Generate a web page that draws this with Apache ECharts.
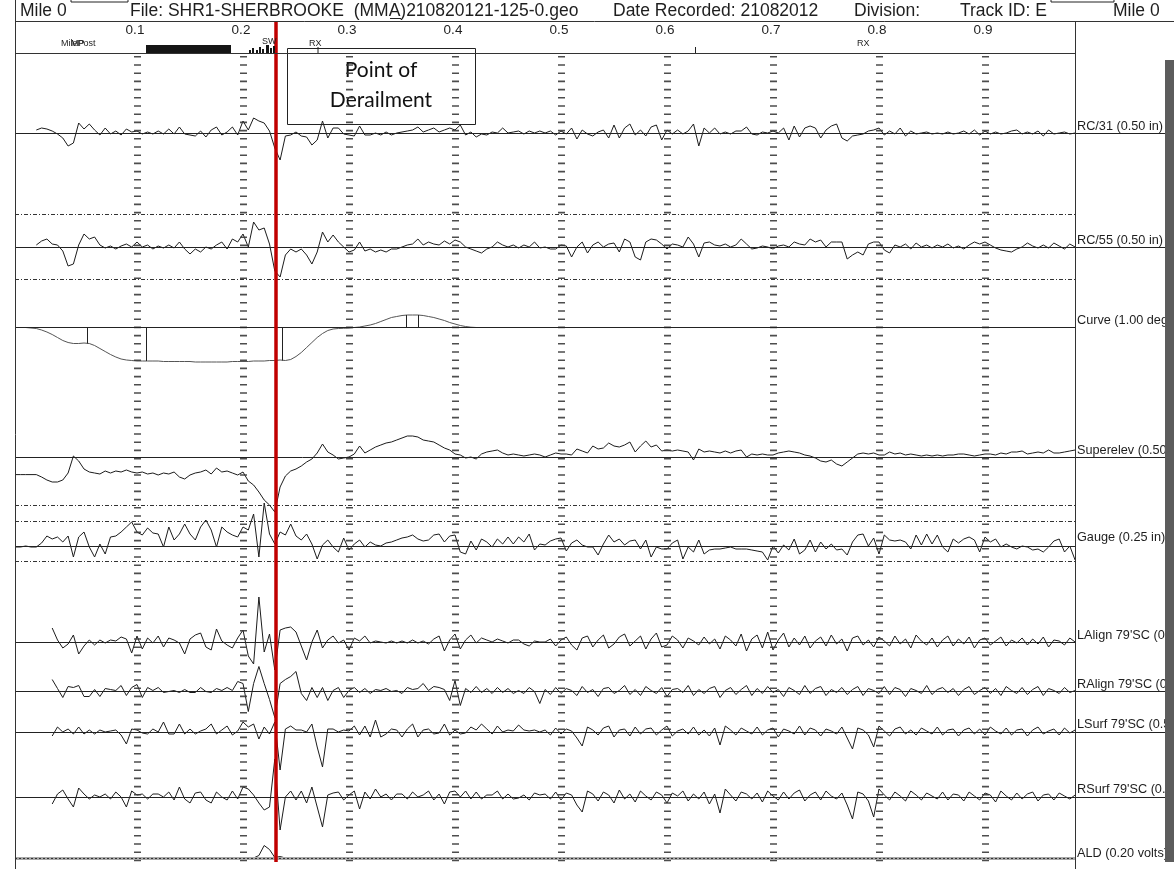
<!DOCTYPE html>
<html><head><meta charset="utf-8">
<script src="https://cdn.jsdelivr.net/npm/echarts@6/dist/echarts.min.js"></script>
<style>html,body{margin:0;padding:0;background:#fff}#c{width:1174px;height:869px}</style>
</head><body><div id="c"></div>
<script>
// ---- distance samples (miles), one every 0.005 mile ----
const startMile = -0.015;
const stepMile = 0.005;
const sampleCount = 201;

// ---- trace values (deflection from each channel's zero line, chart units) ----
const rc31 = [null,null,null,null,
 3,5,4,2,-1,-5,-13,-10,10,4,9,3,-2,5,-1,2,-2,4,1,2,
 -1,1,-1,2,-1,4,-1,6,-1,-2,-3,2,-4,3,6,-2,1,6,-2,12,
 3,15,12,10,2,-15,-27,-3,-2,1,-3,-4,-12,-7,12,-5,5,5,-1,-2,
 -3,7,-2,-2,0,-2,1,-2,0,1,2,3,6,1,3,5,1,3,5,3,
 8,-2,1,-4,-1,-2,1,0,5,0,1,2,-1,2,0,2,
 0,2,-2,2,-1,5,-6,3,-1,-3,1,3,-5,8,-5,5,9,-2,3,-3,
 6,8,-7,3,-1,3,-1,2,9,-13,5,0,5,-1,1,-1,2,2,6,-1,
 -2,1,0,2,0,5,-7,7,-4,5,7,5,-5,3,7,9,-5,-8,-3,-2,
 -1,2,3,5,-2,2,-1,5,-3,2,-1,0,1,-1,0,-1,1,-1,0,2,
 -1,3,-2,2,-1,1,-1,0,2,3,-1,1,-1,2,-3,3,-1,0,1,-1,0];

const rc55 = [null,null,null,null,
 2,6,8,3,2,-4,-19,-17,2,13,8,10,2,-1,1,-2,1,3,0,5,
 0,2,-2,1,-1,2,-1,5,-2,-7,-2,-5,0,-2,2,5,-2,8,5,13,
 0,25,17,19,3,-24,-30,-8,-2,-5,-2,-8,-17,-5,15,5,12,5,0,-5,
 -3,5,-4,-2,-5,-3,-5,-2,-2,0,2,3,8,2,5,3,2,6,3,7,
 5,0,-2,-4,-6,-2,0,5,2,0,2,-1,2,0,5,-1,
 0,-2,-2,2,1,-10,0,5,-6,2,5,0,3,4,-5,8,5,-10,-13,5,
 8,7,3,-2,3,2,0,10,3,-10,4,5,2,1,3,0,2,8,3,-2,
 -1,1,0,-2,1,2,0,5,3,2,8,5,7,0,5,5,5,-12,-8,-5,
 -8,3,5,5,-3,-6,2,0,3,-2,4,0,2,-1,2,0,3,-1,1,-2,
 2,5,3,5,2,-1,-3,-4,-5,-2,0,4,1,-1,2,-1,4,1,-2,3,0];

const curve = [0,0,0,-0.5,
 -1,-2.5,-4.5,-7,-10,-13,-15,-16,-16,-15.5,-16,-18,-21,-24,-27,-29.5,-31.5,-32.5,-33,-33.5,
 -33.5,-33.5,-33.5,-33.5,-34,-34,-34,-34,-34,-34,-34.5,-34.5,-34.5,-34.5,-34.5,-34.5,-34.5,-34,-34,-34,
 -34,-33.5,-33.5,-33.5,-33,-33,-32.5,-33,-32,-29,-25,-20,-15,-10,-6,-3,-1.5,-1,-0.8,-0.5,
 0,0.5,1.5,2.5,4,6,8,10,11,12,12.5,12.5,12.5,12,11,10,8.5,7,5,3.5,
 2,1,0.3,0,0,0,0,0,0,0,0,0,0,0,0,0,0,0,0,0,
 0,0,0,0,0,0,0,0,0,0,0,0,0,0,0,0,0,0,0,0,
 0,0,0,0,0,0,0,0,0,0,0,0,0,0,0,0,0,0,0,0,
 0,0,0,0,0,0,0,0,0,0,0,0,0,0,0,0,0,0,0,0,
 0,0,0,0,0,0,0,0,0,0,0,0,0,0,0,0,0,0,0,0,
 0,0,0,0,0,0,0,0,0,0,0,0,0,0,0,0,0];

const superelev = [-17.6,-17.6,-17.6,-17.6,-17.6,
 -20,-23,-25,-25,-23,-16,1,-4,-12,-15,-16,-17,-14,-16,-14,-15,-13,-15,-16,
 -15,-17,-16,-18,-16,-17,-15,-20,-22,-18,-16,-15,-13,-17,-11,-15,-14,-16,-18,-15,
 -24,-28,-35,-43,-48,-55,-30,-19,-14,-12,-9,-5,-2,4,13,5,2,-2,-1,0,
 3,11,4,7,10,12,14,15,17,19,21,21,20,17,16,15,12,9,7,3,
 2,-1,0,-2,3,5,6,7,4,2,3,2,1,2,3,2,
 0,2,4,3,3,2,8,6,4,11,8,9,14,11,10,12,15,5,11,16,
 10,12,6,7,6,7,6,5,-3,8,5,6,5,4,6,4,6,7,0,3,
 2,3,2,2,4,5,6,5,4,2,1,-1,-4,-5,-3,-7,-9,-5,-1,3,
 4,3,4,2,2,5,3,4,2,3,2,1,2,1,2,1,2,2,3,3,
 2,1,2,3,3,2,4,3,5,5,6,3,4,5,4,7,4,4,5,6,7];

const gauge = [-1,-1,0,-1,-1,
 3,10,7,9,4,10,-11,9,14,-1,-11,2,-8,9,10,14,19,24,14,
 11,18,13,12,-1,19,6,12,22,12,6,19,26,16,-1,19,14,11,9,19,
 16,32,-11,43,12,2,14,11,22,10,6,12,2,-13,1,6,-1,-6,8,-4,
 2,6,-1,4,1,0,3,4,6,8,9,11,7,5,6,11,12,4,10,11,
 -6,-8,5,-4,7,4,-1,7,2,9,2,9,4,12,-4,2,
 1,5,7,8,-5,3,6,1,-1,-1,-9,2,11,4,7,1,5,6,-3,6,
 -11,-1,-3,-3,3,6,-13,-1,-6,6,-8,-4,-3,-3,-2,-1,-3,-3,-3,-4,
 -5,-6,-14,0,-7,1,-4,7,-8,-4,6,-6,4,-3,2,-4,-3,-9,4,11,
 12,0,8,-8,11,6,5,6,4,-3,11,1,12,2,11,-1,-6,7,3,7,
 9,6,-6,9,4,7,-1,2,-1,-3,0,-1,-4,-3,-6,-1,5,7,-6,0,-14];

const lAlign = [null,null,null,null,null,null,null,
 14,2,-6,-2,7,-12,-4,2,-3,2,-1,2,1,5,3,-11,6,
 -7,4,-1,6,-5,4,2,-1,-12,3,7,9,-5,-8,13,1,-3,-6,4,12,
 -14,-22,45,-10,8,-28,12,14,15,10,-4,-18,0,12,-6,2,6,-1,2,-8,
 4,1,6,-1,1,0,-1,1,-1,1,-1,2,-1,1,-2,3,6,-9,2,8,
 -7,2,7,-1,4,2,0,3,1,-1,2,2,-2,-4,1,0,
 0,3,-4,2,5,-3,-8,4,6,-5,2,7,-6,-2,5,8,-4,1,6,-7,
 3,9,-5,-3,6,2,-6,4,1,-3,5,-2,3,-7,6,2,-4,8,-9,3,
 7,-6,10,-8,2,9,-5,4,-3,6,-6,1,5,-4,7,-2,3,-9,4,6,
 -3,2,-5,5,1,-4,6,-2,3,-6,7,1,-3,4,-5,2,6,-4,3,-2,
 5,-6,2,4,-3,1,5,-4,2,-1,4,-3,3,-2,5,-5,2,1,-3,4,0];

const rAlign = [null,null,null,null,null,null,null,
 12,3,-6,5,4,6,-5,-5,2,-5,3,2,1,6,-4,4,7,
 -6,4,1,4,-1,0,1,-1,2,-1,-1,4,0,-1,3,1,4,1,10,8,
 -20,8,25,8,-8,-26,8,12,15,20,-2,-9,4,-6,4,-9,1,4,-6,1,
 4,-1,3,-2,2,1,3,0,1,-2,4,2,3,8,1,5,4,2,-9,11,
 -14,3,-1,5,-1,3,-2,4,-1,3,-2,1,-2,4,0,-12,
 2,-3,4,-2,3,1,-4,5,-1,2,-5,3,4,-2,1,6,-3,2,-4,5,
 1,-2,4,-5,2,3,-1,6,-4,2,-2,3,5,-6,1,4,-3,2,6,-4,
 3,-2,5,-1,2,-5,4,1,-3,6,-2,3,5,-4,2,-1,4,-3,2,5,
 -4,3,1,-2,5,-3,4,2,-5,3,1,-2,6,-3,2,4,-1,3,-4,2,
 5,-3,1,4,-2,3,-4,5,1,-2,4,-3,2,5,-4,3,1,-2,4,-1,1];

const lSurf = [null,null,null,null,null,null,null,
 -4,5,0,3,-2,5,-2,2,-2,2,0,1,2,-3,-12,3,2,
 -1,-2,3,0,10,-2,-2,8,-2,3,-2,1,3,8,-2,2,6,-3,1,10,
 5,8,-7,5,-2,10,-38,3,6,2,2,0,8,-15,-35,3,3,0,2,1,
 6,-3,6,-5,12,-5,-2,3,2,-5,3,8,-5,2,3,-2,-1,8,-3,2,
 -2,-1,5,2,8,3,-2,6,0,2,1,7,2,1,2,0,
 2,-3,4,-2,3,1,-6,-14,5,2,-3,4,6,-5,2,3,-4,5,-2,3,
 4,-3,2,6,-4,1,3,-2,5,-3,2,-4,4,-13,6,2,-3,4,1,-2,
 5,-3,2,4,-5,3,1,-2,6,-3,4,2,-4,3,1,-2,5,-6,-17,4,
 2,-3,-15,6,1,-4,3,5,-2,2,-3,4,1,-2,5,-3,2,3,-4,2,
 4,-2,3,-3,5,1,-2,4,-3,2,3,-4,2,5,-2,1,3,-3,4,-1,2];

const rSurf = [null,null,null,null,null,null,null,
 -7,3,7,-2,-10,9,3,-2,2,0,3,-2,5,0,-10,6,2,
 3,-2,3,3,0,5,-3,10,-2,-6,4,5,-3,-6,5,0,-3,6,-2,10,
 8,2,-6,-13,-10,38,-33,0,6,-3,6,-6,10,-10,-30,2,4,5,-3,2,
 6,-12,5,-2,8,0,3,-3,3,3,-2,5,0,2,6,-3,3,-7,5,6,
 0,6,-2,5,-2,2,2,6,-2,3,-2,-1,2,-3,4,2,
 3,-2,5,-3,4,2,-8,-15,6,3,-4,5,2,-6,7,-2,3,-5,6,1,
 -3,5,2,-6,4,1,6,-4,3,-2,5,-7,3,-16,8,2,-4,5,3,-2,
 4,-5,6,1,-3,5,-2,4,7,-4,2,5,-3,6,1,-2,4,-8,-22,5,
 3,-4,-20,8,2,-3,5,1,-4,6,2,-3,4,1,-2,5,-3,3,2,-4,
 5,1,-3,4,2,-5,6,1,-3,4,-2,3,5,-4,2,3,-3,4,1,-2,2];

const ald = [0,0,0,0,
 0,0,0,0,0,0,0,0,0,0,0,0,0,0,0,0,0,0,0,0,
 0,0,0,0,0,0,0,0,0,0,0,0,0,0,0,0,0,0,0,0,
 0,0.5,3,13,9,1,2,0.5,0,0,0,0,0,0,0,0,0,0,0,0,
 0,0,0,0,0,0,0,0,0,0,0,0,0,0,0,0,0,0,0,0,
 0,0,0,0,0,0,0,0,0,0,0,0,0,0,0,0,
 0,0,0,0,0,0,0,0,0,0,0,0,0,0,0,0,0,0,0,0,
 0,0,0,0,0,0,0,0,0,0,0,0,0,0,0,0,0,0,0,0,
 0,0,0,0,0,0,0,0,0,0,0,0,0,0,0,0,0,0,0,0,
 0,0,0,0,0,0,0,0,0,0,0,0,0,0,0,0,0,0,0,0,
 0,0,0,0,0,0,0,0,0,0,0,0,0,0,0,0,0,0,0,0,0];

// curve spiral marks (mile, value)
const curveMarkMiles = [0.053, 0.1085, 0.237, 0.354, 0.365];
const curveMarkValues = [-16, -33.5, -33, 12.5, 12.5];

// axis ticks
const tickMiles = [0.1, 0.2, 0.3, 0.4, 0.5, 0.6, 0.7, 0.8, 0.9];
const tickLabels = ['0.1', '0.2', '0.3', '0.4', '0.5', '0.6', '0.7', '0.8', '0.9'];

const derailmentMile = 0.231;

const channelNames = ['RC/31 (0.50 in)', 'RC/55 (0.50 in)', 'Curve (1.00 deg)', 'Superelev (0.50 in)',
  'Gauge (0.25 in)', "LAlign 79'SC (0.50 in)", "RAlign 79'SC (0.50 in)", "LSurf 79'SC (0.50 in)",
  "RSurf 79'SC (0.50 in)", 'ALD (0.20 volts)'];
const channelData = [rc31, rc55, curve, superelev, gauge, lAlign, rAlign, lSurf, rSurf, ald];

// ---- layout (pixels) ----
const GRID_TOP = 21, GRID_BOTTOM_PX = 869, GRID_LEFT = 15, GRID_RIGHT_PX = 1165;
const X_MIN = -16 / 1060, X_MAX = 1134 / 1060, X_DATA_END = 1044 / 1060;
const layout = [
  {base: 133, labelY: 126, extend: true, limits: []},
  {base: 247, labelY: 240, extend: true, limits: [33, -32.5]},
  {base: 327.5, labelY: 320, extend: false, limits: [], color: '#555'},
  {base: 457, labelY: 450, extend: true, limits: [-48]},
  {base: 546, labelY: 537, extend: false, limits: [24.3, -15]},
  {base: 642, labelY: 635, extend: false, limits: []},
  {base: 691.5, labelY: 684, extend: true, limits: []},
  {base: 732, labelY: 724, extend: true, limits: []},
  {base: 797, labelY: 789, extend: true, limits: []},
  {base: 858.5, labelY: 853, extend: false, limits: [], ald: true}
];

const miles = [];
for (let i = 0; i < sampleCount; i++) miles.push(+(startMile + i * stepMile).toFixed(3));

const chart = echarts.init(document.getElementById('c'), null, {renderer: 'canvas'});

const yAxes = [{type: 'value', show: false, inverse: true, min: GRID_TOP, max: GRID_BOTTOM_PX}];
const series = [];
const noMark = {symbol: ['none', 'none'], silent: true, label: {show: false}, emphasis: {disabled: true}, animation: false};

// frame: dashed mile columns
series.push({
  type: 'line', yAxisIndex: 0, data: [[X_MIN, null]], symbol: 'none', z: 1,
  markLine: Object.assign({}, noMark, {
    lineStyle: {color: '#3a3a3a', width: 7, type: [1.6, 6.6], opacity: 0.9},
    data: tickMiles.map(m => [{coord: [m, 56]}, {coord: [m, 866]}])
  })
});

channelData.forEach((arr, ci) => {
  const L = layout[ci];
  yAxes.push({type: 'value', show: false, min: -(GRID_BOTTOM_PX - L.base), max: L.base - GRID_TOP});
  const baseStyle = L.ald ? {color: '#a8a8a8', width: 3, type: 'solid'} : {color: '#222', width: 1, type: 'solid'};
  const marks = [[{coord: [X_MIN, 0], lineStyle: baseStyle}, {coord: [L.extend ? X_MAX : X_DATA_END, 0]}]];
  if (L.ald) marks.push([{coord: [X_MIN, 0], lineStyle: {color: '#333', width: 1, type: [2, 2]}}, {coord: [X_DATA_END, 0]}]);
  L.limits.forEach(v => marks.push([{coord: [X_MIN, v], lineStyle: {color: '#333', width: 1, type: [4, 2, 1, 2]}}, {coord: [X_DATA_END, v]}]));
  if (ci === 2) {
    curveMarkMiles.forEach((m, j) => marks.push([{coord: [m, 0], lineStyle: {color: '#222', width: 1, type: 'solid'}}, {coord: [m, curveMarkValues[j]]}]));
  }
  series.push({
    type: 'line', name: channelNames[ci], yAxisIndex: ci + 1,
    data: miles.map((m, i) => [m, arr[i]]),
    symbol: 'none', showSymbol: false, connectNulls: false, clip: false, z: 3,
    lineStyle: {color: L.color || '#1c1c1c', width: 1},
    markLine: Object.assign({}, noMark, {data: marks})
  });
});

// derailment marker
series.push({
  type: 'line', yAxisIndex: 0, data: [[X_MIN, null]], symbol: 'none', z: 20,
  markLine: Object.assign({}, noMark, {
    lineStyle: {color: '#c00000', width: 3.5, type: 'solid'},
    data: [[{coord: [derailmentMile, 21]}, {coord: [derailmentMile, 862]}]]
  })
});

const option = {
  animation: false,
  backgroundColor: '#ffffff',
  grid: {left: GRID_LEFT, right: 1174 - GRID_RIGHT_PX, top: GRID_TOP, bottom: 869 - GRID_BOTTOM_PX, containLabel: false},
  xAxis: {type: 'value', show: false, min: X_MIN, max: X_MAX},
  yAxis: yAxes,
  series: series
};
chart.setOption(option);

// ---- text & frame graphics ----
const F = '"Liberation Sans", Arial, sans-serif';
const txt = (x, y, text, size, extra) => Object.assign({type: 'text', x: x, y: y, z: 50,
  style: Object.assign({text: text, font: size + 'px ' + F, fill: '#1e1e1e', align: 'left', verticalAlign: 'middle'}, extra || {})});
const ln = (x1, y1, x2, y2, w, c) => ({type: 'line', z: 40, shape: {x1, y1, x2, y2}, style: {stroke: c || '#333', lineWidth: w || 1}});
const rect = (x, y, w, h, style, z) => ({type: 'rect', z: z || 40, shape: {x, y, width: w, height: h}, style});

const g = [];
// borders
g.push(ln(15.5, 0, 15.5, 869));
g.push(ln(15, 21.5, 1174, 21.5));
g.push(ln(15, 53.5, 1075, 53.5));
g.push(ln(1075.5, 21, 1075.5, 869));
g.push(rect(71, -10, 57, 12, {fill: '#fff', stroke: '#222', lineWidth: 1}));
g.push(rect(1051, -10, 63, 12, {fill: '#fff', stroke: '#222', lineWidth: 1}));
// header
g.push(txt(20, 11, 'Mile 0', 17.5));
g.push(txt(130, 11, 'File: SHR1-SHERBROOKE  (MMA)210820121-125-0.geo', 17.5));
g.push(txt(613, 11, 'Date Recorded: 21082012', 17.5));
g.push(txt(854, 11, 'Division:', 17.5));
g.push(txt(960, 11, 'Track ID: E', 17.5));
g.push(txt(1113, 11, 'Mile 0', 17.5));
g.push(ln(390, 18.5, 401, 18.5, 1, '#222'));
// mile tick labels
tickMiles.forEach((m, i) => {
  const x = chart.convertToPixel({xAxisIndex: 0}, m);
  g.push(txt(x - 2, 30, tickLabels[i], 13.5, {align: 'center'}));
});
// milepost row
g.push(txt(61, 44, 'MilePost', 9));
g.push(txt(71, 44, 'MP', 9));
g.push(rect(146, 45, 85, 8, {fill: '#151515'}));
[[249, 50, 2], [252, 48, 2], [256, 50, 2], [259, 47, 2], [262, 49, 2], [266, 45, 3], [270, 48, 2], [273, 46, 2]]
  .forEach(b => g.push(rect(b[0], b[1], b[2], 53 - b[1], {fill: '#151515'})));
g.push(txt(262, 42, 'SW', 9));
g.push(txt(309, 44, 'RX', 9));
g.push(ln(318, 47, 318, 53, 1, '#222'));
g.push(txt(857, 44, 'RX', 9));
g.push(ln(695.5, 47, 695.5, 53, 1, '#222'));
// point of derailment box
g.push(rect(287.5, 48.5, 188, 76, {fill: '#fff', stroke: '#222', lineWidth: 1}, 1));
g.push(Object.assign(txt(381, 70, 'Point of', 21, {align: 'center', font: '21px Lato, "Open Sans", sans-serif', fill: '#111'}), {z: 2}));
g.push(Object.assign(txt(381, 100, 'Derailment', 21, {align: 'center', font: '21px Lato, "Open Sans", sans-serif', fill: '#111'}), {z: 2}));
// channel labels (their overflow is hidden under the right gray bar)
channelNames.forEach((n, i) => g.push(txt(1077, layout[i].labelY, n, 12.7)));
// right gray bar
g.push(rect(1165, 60, 9, 802, {fill: '#5c5c5c'}, 100));

// length check
const bad = channelData.map((a, i) => a.length !== sampleCount ? channelNames[i] + ':' + a.length : null).filter(Boolean);
if (bad.length) g.push(txt(300, 400, 'LEN ' + bad.join(' '), 20, {fill: 'red'}));

chart.setOption({graphic: {elements: g}});
</script>
</body></html>
